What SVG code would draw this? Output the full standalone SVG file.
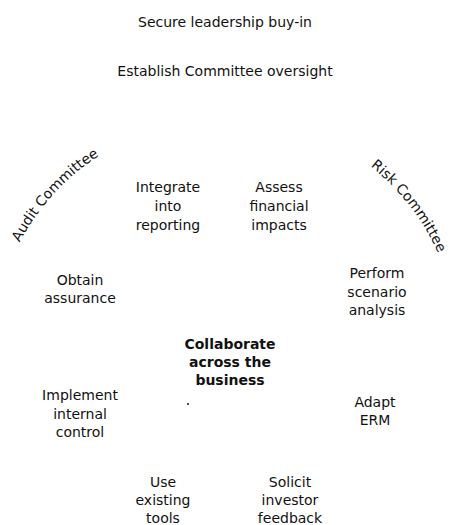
<svg xmlns="http://www.w3.org/2000/svg" width="449" height="525" viewBox="0 0 449 525">
<style>
text{font-family:"DejaVu Sans","Liberation Sans",sans-serif;font-size:14px;fill:#111;text-anchor:middle}
.b{font-weight:bold}
</style>
<defs>
<path id="arcA" d="M -7 350 A 231 231 0 0 1 203.9 119.9"/>
<path id="arcR" d="M 264.8 118.6 A 235 235 0 0 1 458.4 367.2"/>
</defs>
<rect width="449" height="525" fill="#fff"/>
<g id="secure"><text x="225" y="27">Secure leadership buy-in</text></g>
<g id="establish"><text x="225" y="76">Establish Committee oversight</text></g>
<g id="audit"><text><textPath href="#arcA" startOffset="50%">Audit Committee</textPath></text></g>
<g id="risk"><text><textPath href="#arcR" startOffset="50%">Risk Committee</textPath></text></g>
<g id="integrate"><text x="168" y="192"><tspan x="168">Integrate</tspan><tspan x="168" dy="19">into</tspan><tspan x="168" dy="19">reporting</tspan></text></g>
<g id="assess"><text x="279" y="192"><tspan x="279">Assess</tspan><tspan x="279" dy="19">financial</tspan><tspan x="279" dy="19">impacts</tspan></text></g>
<g id="obtain"><text x="80" y="285"><tspan x="80">Obtain</tspan><tspan x="80" dy="18">assurance</tspan></text></g>
<g id="perform"><text x="377" y="278"><tspan x="377">Perform</tspan><tspan x="377" dy="18.5">scenario</tspan><tspan x="377" dy="18.5">analysis</tspan></text></g>
<g id="collab"><text class="b" x="230" y="349"><tspan x="230">Collaborate</tspan><tspan x="230" dy="18">across the</tspan><tspan x="230" dy="18">business</tspan></text></g>
<g id="implement"><text x="80" y="400"><tspan x="80">Implement</tspan><tspan x="80" dy="18.5">internal</tspan><tspan x="80" dy="18.5">control</tspan></text></g>
<g id="adapt"><text x="375" y="407"><tspan x="375">Adapt</tspan><tspan x="375" dy="18">ERM</tspan></text></g>
<g id="use"><text x="163" y="487"><tspan x="163">Use</tspan><tspan x="163" dy="18">existing</tspan><tspan x="163" dy="18">tools</tspan></text></g>
<g id="solicit"><text x="290" y="487"><tspan x="290">Solicit</tspan><tspan x="290" dy="18">investor</tspan><tspan x="290" dy="18">feedback</tspan></text></g>
<g id="dot"><circle cx="188" cy="404" r="1" fill="#111"/></g>
<g id="connectors"></g>
</svg>
